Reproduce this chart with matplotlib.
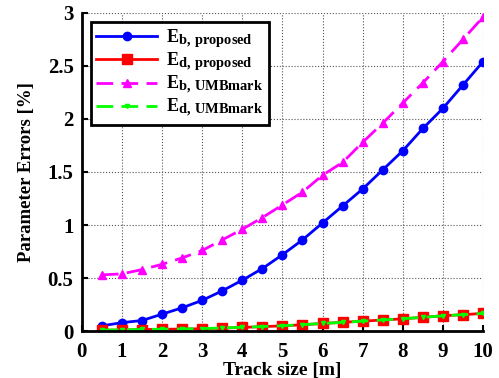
import matplotlib
matplotlib.use("Agg")
import matplotlib.pyplot as plt
import matplotlib._mathtext as mathtext_internal
import numpy as np

# Track sizes [m]
track_size = [0.5, 1, 1.5, 2, 2.5, 3, 3.5, 4, 4.5, 5,
              5.5, 6, 6.5, 7, 7.5, 8, 8.5, 9, 9.5, 10]

# Parameter errors [%]
eb_proposed = [0.05, 0.08, 0.10, 0.16, 0.22, 0.29, 0.38, 0.48, 0.59, 0.72,
               0.86, 1.02, 1.18, 1.34, 1.52, 1.70, 1.91, 2.10, 2.32, 2.54]
ed_proposed = [0.01, 0.01, 0.015, 0.017, 0.02, 0.022, 0.028, 0.035, 0.042, 0.05,
               0.06, 0.072, 0.083, 0.094, 0.105, 0.116, 0.13, 0.145, 0.155, 0.167]
eb_umbmark = [0.53, 0.54, 0.58, 0.63, 0.69, 0.76, 0.86, 0.96, 1.07, 1.19,
              1.31, 1.47, 1.59, 1.78, 1.96, 2.15, 2.34, 2.54, 2.75, 2.96]
ed_umbmark = [0.01, 0.012, 0.016, 0.018, 0.021, 0.024, 0.03, 0.036, 0.043, 0.051,
              0.061, 0.072, 0.083, 0.094, 0.105, 0.117, 0.13, 0.144, 0.155, 0.167]

plt.rcParams["font.family"] = "Liberation Serif"
plt.rcParams["font.weight"] = "bold"
plt.rcParams["mathtext.fontset"] = "custom"
plt.rcParams["mathtext.rm"] = "Liberation Serif:bold"
plt.rcParams["mathtext.bf"] = "Liberation Serif:bold"
plt.rcParams["mathtext.it"] = "Liberation Serif:bold"
# larger subscripts, closer to the original figure
mathtext_internal.SHRINK_FACTOR = 0.8

fig = plt.figure(figsize=(4.99, 3.78), dpi=100)
ax = fig.add_axes([0.164, 0.124, 0.804, 0.842])

ax.plot(track_size, eb_proposed, color="#0000ff", lw=2, marker="o", ms=6,
        label=r"$\mathrm{E}_{\mathrm{b,\,proposed}}$")
ax.plot(track_size, ed_proposed, color="#ff0000", lw=2, marker="s", ms=6.5,
        label=r"$\mathrm{E}_{\mathrm{d,\,proposed}}$")
ax.plot(track_size, eb_umbmark, color="#ff00ff", lw=2, marker="^", ms=6,
        dashes=(6, 3), label=r"$\mathrm{E}_{\mathrm{b,\,UMBmark}}$")
ax.plot(track_size, ed_umbmark, color="#00ff00", lw=2, marker="v", ms=3,
        dashes=(6, 3), label=r"$\mathrm{E}_{\mathrm{d,\,UMBmark}}$")

ax.set_xlim(0, 10)
ax.set_ylim(0, 3)
ax.set_xticks(np.arange(0, 11, 1))
ax.set_yticks([0, 0.5, 1, 1.5, 2, 2.5, 3])
ax.set_yticklabels(["0", "0.5", "1", "1.5", "2", "2.5", "3"])
ax.tick_params(direction="in", labelsize=15, width=1.5, length=4)
ax.tick_params(axis="x", pad=8)
ax.tick_params(axis="y", pad=6)
ax.grid(True, linestyle=":", color="#555555", lw=0.8)

for side in ["top", "right"]:
    ax.spines[side].set_visible(False)
for side in ["left", "bottom"]:
    ax.spines[side].set_linewidth(2)

ax.set_xlabel("Track size [m]", fontsize=14, fontweight="bold", labelpad=0)
ax.set_ylabel("Parameter Errors [%]", fontsize=13.5, fontweight="bold", labelpad=9)

leg = ax.legend(loc="upper left", fontsize=13, fancybox=False, framealpha=1,
                edgecolor="black", handlelength=3.4, handletextpad=0.5,
                borderpad=0.3, labelspacing=0.05, borderaxespad=0,
                bbox_to_anchor=(0.022, 0.972))
leg.get_frame().set_linewidth(2)

plt.savefig("out.png", dpi=100)
plt.close()
